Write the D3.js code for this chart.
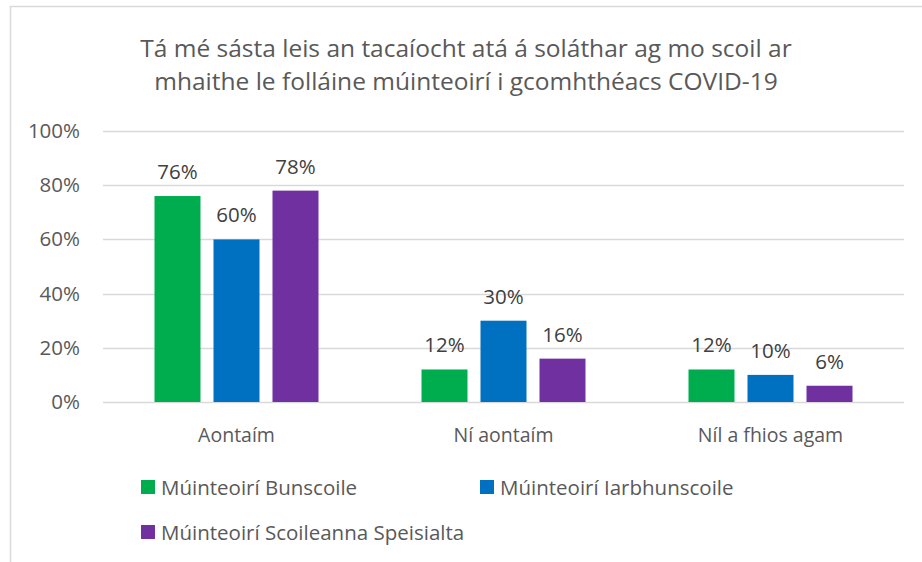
<!DOCTYPE html>
<html>
<head>
<meta charset="utf-8">
<script src="https://cdn.jsdelivr.net/npm/d3@7"></script>
<style>
  body { margin: 0; background: #fff; }
  svg text { font-family: "Open Sans", "Noto Sans", sans-serif; fill: #595959; }
</style>
</head>
<body>
<svg id="chart" width="922" height="562"></svg>
<script>
const titleLines = [
    'Tá mé sásta leis an tacaíocht atá á soláthar ag mo scoil ar',
    'mhaithe le folláine múinteoirí i gcomhthéacs COVID-19',
];
const categories = ['Aontaím', 'Ní aontaím', 'Níl a fhios agam'];
const seriesNames = ['Múinteoirí Bunscoile', 'Múinteoirí Iarbhunscoile', 'Múinteoirí Scoileanna Speisialta'];
const seriesColors = ['#00ad4e', '#0070c0', '#7030a0'];
const bunscoile = [76, 12, 12];
const iarbhunscoile = [60, 30, 10];
const speisialta = [78, 16, 6];
const yTicks = [0, 20, 40, 60, 80, 100];

const series = [bunscoile, iarbhunscoile, speisialta];

const svg = d3.select('#chart');

// outer frame (only top and left edges show in the crop)
svg.append('path')
    .attr('d', 'M10.5,562 V6.5 H922')
    .attr('fill', 'none')
    .attr('stroke', '#d9d9d9')
    .attr('stroke-width', 1.5);

svg.append('g')
    .selectAll('text')
    .data(titleLines)
    .enter()
    .append('text')
    .attr('x', 466)
    .attr('y', (d, i) => 57 + i * 33)
    .attr('text-anchor', 'middle')
    .attr('font-size', 24.5)
    .text(d => d);

const plot = { left: 103, right: 904, top: 131, bottom: 402 };

const x = d3.scaleBand()
    .domain(categories)
    .range([plot.left, plot.right]);

const y = d3.scaleLinear()
    .domain([0, 100])
    .range([plot.bottom, plot.top]);

const barW = 46, barGap = 13;
const groupW = barW * 3 + barGap * 2;

svg.append('g')
    .selectAll('line')
    .data(yTicks)
    .enter()
    .append('line')
    .attr('x1', plot.left)
    .attr('x2', plot.right)
    .attr('y1', d => Math.round(y(d)) + 0.5)
    .attr('y2', d => Math.round(y(d)) + 0.5)
    .attr('stroke', '#d9d9d9')
    .attr('stroke-width', 1.5);

svg.append('g')
    .selectAll('text')
    .data(yTicks)
    .enter()
    .append('text')
    .attr('x', 80)
    .attr('y', d => y(d) + 7)
    .attr('text-anchor', 'end')
    .attr('font-size', 20.5)
    .text(d => d + '%');

const groups = svg.append('g')
    .selectAll('g')
    .data(series)
    .enter()
    .append('g')
    .attr('fill', (d, i) => seriesColors[i]);

groups.each(function (vals, si) {
    const g = d3.select(this);
    const bx = (c) => x(c) + x.bandwidth() / 2 - groupW / 2 + si * (barW + barGap);
    g.selectAll('rect')
        .data(categories)
        .enter()
        .append('rect')
        .attr('x', c => bx(c))
        .attr('y', (c, ci) => y(vals[ci]))
        .attr('width', barW)
        .attr('height', (c, ci) => plot.bottom - y(vals[ci]));
    g.selectAll('text')
        .data(categories)
        .enter()
        .append('text')
        .attr('x', c => bx(c) + barW / 2)
        .attr('y', (c, ci) => y(vals[ci]) - 17)
        .attr('text-anchor', 'middle')
        .attr('font-size', 20.5)
        .style('fill', '#404040')
        .text((c, ci) => vals[ci] + '%');
});

svg.append('g')
    .selectAll('text')
    .data(categories)
    .enter()
    .append('text')
    .attr('x', c => x(c) + x.bandwidth() / 2)
    .attr('y', 442)
    .attr('text-anchor', 'middle')
    .attr('font-size', 19.5)
    .text(d => d);

const legendPos = [[141, 495], [480, 495], [141, 540]];
const legend = svg.append('g')
    .selectAll('g')
    .data(seriesNames)
    .enter()
    .append('g')
    .attr('transform', (d, i) => `translate(${legendPos[i][0]},${legendPos[i][1]})`);

legend.append('rect')
    .attr('x', 0)
    .attr('y', -15)
    .attr('width', 14)
    .attr('height', 14)
    .attr('fill', (d, i) => seriesColors[i]);

legend.append('text')
    .attr('x', 20)
    .attr('y', 0)
    .attr('font-size', 20.5)
    .text(d => d);
</script>
</body>
</html>
